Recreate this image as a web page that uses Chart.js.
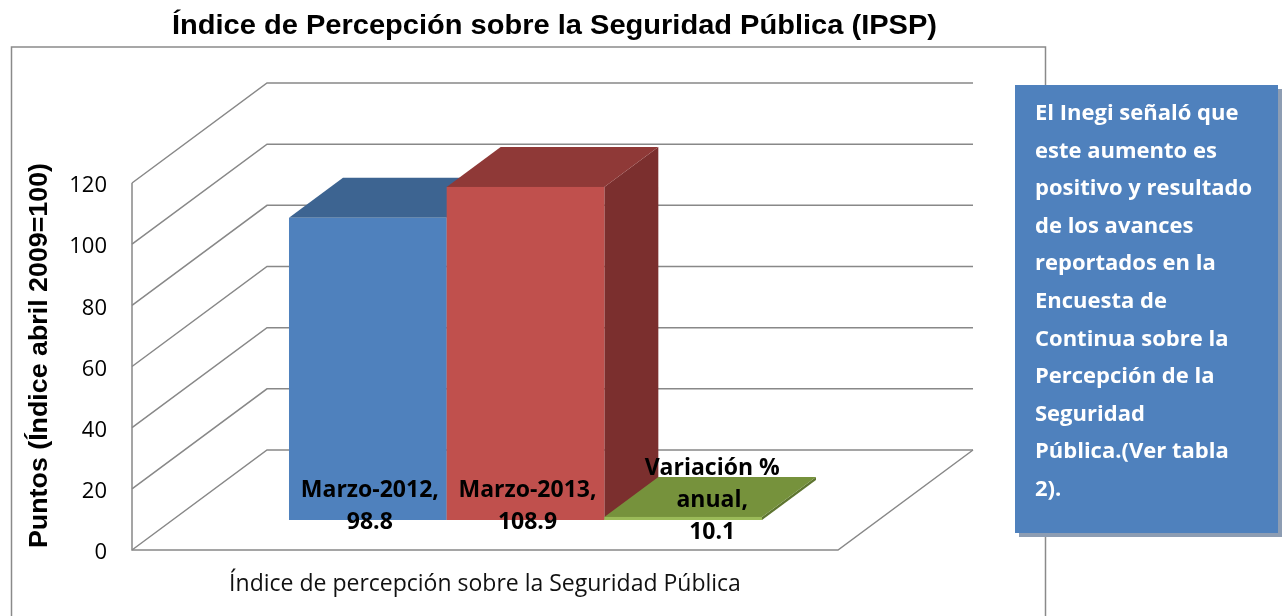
<!DOCTYPE html>
<html>
<head>
<meta charset="utf-8">
<script src="https://cdn.jsdelivr.net/npm/chart.js@4.4.1/dist/chart.umd.min.js"></script>
<style>
  html, body { margin: 0; padding: 0; background: #fff; overflow: hidden; }
  #wrap { width: 1287px; height: 616px; }
</style>
</head>
<body>
<div id="wrap"><canvas id="chart"></canvas></div>
<script>
const chartTitle = 'Índice de Percepción sobre la Seguridad Pública (IPSP)';
const yTitle = 'Puntos (Índice abril 2009=100)';
const categories = ['Índice de percepción sobre la Seguridad Pública'];
const seriesNames = ['Marzo-2012', 'Marzo-2013', 'Variación %\nanual'];
const seriesValues = [98.8, 108.9, 1.0];          // bar heights as drawn
const seriesLabels = ['98.8', '108.9', '10.1'];   // numbers printed on the bars
const yTicks = [0, 20, 40, 60, 80, 100, 120];
const noteLines = [
  'El Inegi señaló que',
  'este aumento es',
  'positivo y resultado',
  'de los avances',
  'reportados en la',
  'Encuesta de',
  'Continua sobre la',
  'Percepción de la',
  'Seguridad',
  'Pública.(Ver tabla',
  '2).'
];

const frontColors = ['#4F81BD', '#C0504D', '#9BBB59'];
const topColors = ['#3D6491', '#8F3937', '#76923C'];
const sideColors = ['#31507A', '#7B2F2E', '#5E7530'];

// depth of the box (back wall offset) and where the bars sit in it
const WALL = { dx: 135, dy: -100 };
const BAR_FRONT = 0.3, BAR_DEPTH = 0.4;
const SANS = '"Open Sans", Lato, sans-serif';

function poly(ctx, color, pts) {
  ctx.fillStyle = color;
  ctx.beginPath();
  ctx.moveTo(pts[0][0], pts[0][1]);
  pts.slice(1).forEach(p => ctx.lineTo(p[0], p[1]));
  ctx.closePath();
  ctx.fill();
}

const threeD = {
  id: 'threeD',
  beforeDraw(chart) {
    const { ctx, chartArea: a } = chart;
    const y = chart.scales.y;
    ctx.save();
    ctx.fillStyle = '#fff';
    ctx.fillRect(0, 0, chart.width, chart.height);
    // outer frame
    ctx.strokeStyle = '#8a8a8a';
    ctx.lineWidth = 1.5;
    ctx.strokeRect(11.5, 47, 1034, 620);
    // walls
    ctx.strokeStyle = '#888';
    y.ticks.forEach(t => {
      const py = y.getPixelForValue(t.value);
      ctx.beginPath();
      ctx.moveTo(a.left, py);
      ctx.lineTo(a.left + WALL.dx, py + WALL.dy);
      ctx.lineTo(a.right + WALL.dx, py + WALL.dy);
      ctx.stroke();
    });
    // front edge and floor
    ctx.beginPath();
    ctx.moveTo(a.left, a.top);
    ctx.lineTo(a.left, a.bottom);
    ctx.lineTo(a.right, a.bottom);
    ctx.lineTo(a.right + WALL.dx, a.bottom + WALL.dy);
    ctx.stroke();
    ctx.restore();
  },
  beforeDatasetsDraw(chart) {
    const { ctx } = chart;
    const fx = WALL.dx * BAR_FRONT, fy = WALL.dy * BAR_FRONT;
    const bx = WALL.dx * BAR_DEPTH, by = WALL.dy * BAR_DEPTH;
    ctx.save();
    chart.data.datasets.forEach((ds, i) => {
      const el = chart.getDatasetMeta(i).data[0];
      const { x, y, base, width } = el.getProps(['x', 'y', 'base', 'width'], true);
      const l = x - width / 2 + fx, r = x + width / 2 + fx;
      const t = y + fy, b = base + fy;
      poly(ctx, sideColors[i], [[r, t], [r + bx, t + by], [r + bx, b + by], [r, b]]);
      poly(ctx, topColors[i], [[l, t], [l + bx, t + by], [r + bx, t + by], [r, t]]);
      ctx.fillStyle = ds.backgroundColor;
      ctx.fillRect(l, t, r - l, b - t);
    });
    ctx.restore();
    return false;
  },
  afterDraw(chart) {
    const { ctx } = chart;
    const fx = WALL.dx * BAR_FRONT, fy = WALL.dy * BAR_FRONT;
    const bx = WALL.dx * BAR_DEPTH, by = WALL.dy * BAR_DEPTH;
    ctx.save();

    // data labels
    ctx.fillStyle = '#000';
    ctx.font = 'bold 23px ' + SANS;
    ctx.textAlign = 'center';
    ctx.textBaseline = 'alphabetic';
    const pitch = 32;
    chart.data.datasets.forEach((ds, i) => {
      const el = chart.getDatasetMeta(i).data[0];
      const { x, y, base } = el.getProps(['x', 'y', 'base'], true);
      const lines = (seriesNames[i] + ',').split('\n').concat(seriesLabels[i]);
      const t = y + fy, b = base + fy;
      let cx, firstBase;
      if (b - t > lines.length * pitch) {
        cx = x + fx + 2;
        firstBase = b + 9 - (lines.length - 1) * pitch;
      } else {
        cx = x + fx + bx / 2 + 2;
        firstBase = t + by / 2 + 10 - (lines.length - 1) / 2 * pitch;
      }
      lines.forEach((ln, k) => ctx.fillText(ln, cx, firstBase + k * pitch));
    });

    // chart title
    ctx.font = 'bold 28px "Liberation Sans", Arial, sans-serif';
    const tw = ctx.measureText(chartTitle).width;
    ctx.save();
    ctx.translate(554.5, 34);
    ctx.scale(765 / tw, 1);
    ctx.fillText(chartTitle, 0, 0);
    ctx.restore();

    // y axis title
    ctx.font = 'bold 26px "Liberation Sans", Arial, sans-serif';
    const yw = ctx.measureText(yTitle).width;
    ctx.save();
    ctx.translate(47, 355.5);
    ctx.rotate(-Math.PI / 2);
    ctx.scale(385 / yw, 1);
    ctx.fillText(yTitle, 0, 0);
    ctx.restore();

    // note box
    ctx.fillStyle = '#8D9DB3';
    ctx.fillRect(1019, 89, 263, 448);
    ctx.fillStyle = '#4F81BD';
    ctx.fillRect(1015, 85, 263, 448);
    ctx.fillStyle = '#fff';
    ctx.font = 'bold 22px ' + SANS;
    ctx.textAlign = 'left';
    noteLines.forEach((ln, k) => ctx.fillText(ln, 1035, 120 + k * 37.6));

    ctx.restore();
  }
};

Chart.defaults.font.family = SANS;
Chart.defaults.color = '#000';

new Chart(document.getElementById('chart'), {
  type: 'bar',
  data: {
    labels: categories,
    datasets: seriesNames.map((name, i) => ({
      label: name,
      data: [seriesValues[i]],
      backgroundColor: frontColors[i],
      barPercentage: 1,
      categoryPercentage: 0.67
    }))
  },
  options: {
    responsive: true,
    maintainAspectRatio: false,
    animation: false,
    layout: { padding: { left: 0, right: 449, top: 183, bottom: 0 } },
    plugins: { legend: { display: false }, tooltip: { enabled: false }, title: { display: false } },
    scales: {
      x: {
        grid: { display: false },
        border: { display: false },
        ticks: { display: false },
        title: {
          display: true,
          text: categories[0],
          font: { size: 23 },
          color: '#111',
          padding: { top: 0, bottom: 18 }
        },
        afterFit: s => { s.height = 66; }
      },
      y: {
        min: 0,
        max: 120,
        grid: { display: false, drawTicks: false },
        border: { display: false },
        ticks: { font: { size: 22 }, padding: 25, labelOffset: 3, color: '#000' },
        afterBuildTicks: s => { s.ticks = yTicks.map(v => ({ value: v })); },
        afterFit: s => { s.width = 132; }
      }
    }
  },
  plugins: [threeD]
});
</script>
</body>
</html>
